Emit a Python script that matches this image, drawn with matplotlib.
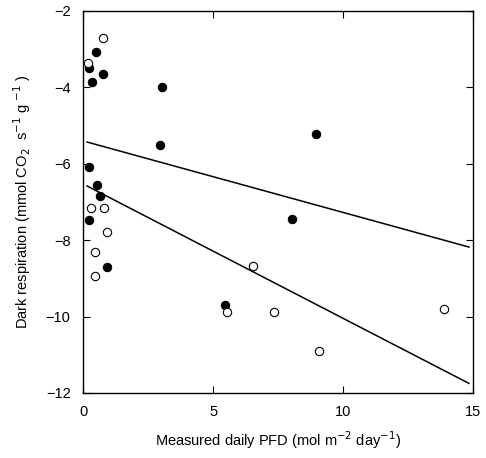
import numpy as np
import matplotlib.pyplot as plt

plt.rcParams['font.family'] = ['Liberation Sans', 'DejaVu Sans']

# filled circles
filled_x = [0.50, 0.24, 0.35, 0.77, 3.05, 2.94, 0.24, 0.53, 0.64, 0.24, 0.91, 8.96, 8.03, 5.46]
filled_y = [-3.08, -3.50, -3.85, -3.65, -4.00, -5.52, -6.08, -6.56, -6.85, -7.46, -8.70, -5.22, -7.45, -9.70]

# open circles
open_x = [0.76, 0.20, 0.30, 0.80, 0.91, 0.45, 0.47, 6.55, 5.54, 7.35, 13.9, 9.09]
open_y = [-2.70, -3.36, -7.16, -7.16, -7.78, -8.30, -8.95, -8.68, -9.88, -9.88, -9.79, -10.90]

# regression lines (end points)
fit_x = [0.15, 14.85]
upper_y = [-5.43, -8.18]
lower_y = [-6.58, -11.75]

fig = plt.figure(figsize=(4.86, 4.58), dpi=100)
ax = fig.add_axes([0.171, 0.142, 0.802, 0.834])

ax.plot(fit_x, upper_y, color='black', lw=1.1)
ax.plot(fit_x, lower_y, color='black', lw=1.1)
ax.plot(filled_x, filled_y, 'o', ms=6, mfc='black', mec='black', mew=0.8, ls='none')
ax.plot(open_x, open_y, 'o', ms=6, mfc='white', mec='black', mew=0.8, ls='none')

ax.set_xlim(0, 15)
ax.set_ylim(-12, -2)
ax.set_xticks([0, 5, 10, 15])
ax.set_yticks([-12, -10, -8, -6, -4, -2])
ax.tick_params(direction='in', top=True, right=True, length=5, width=0.8,
               labelsize=10.5, pad=9)
for s in ax.spines.values():
    s.set_linewidth(1.0)

ax.set_xlabel('Measured daily PFD (mol m$^{-2}$ day$^{-1}$)', fontsize=10.5, labelpad=7)
ax.set_ylabel('Dark respiration (mmol CO$_2$  s$^{-1}$ g $^{-1}$ )', fontsize=10.5, labelpad=9)

fig.savefig('out.png', dpi=100)
